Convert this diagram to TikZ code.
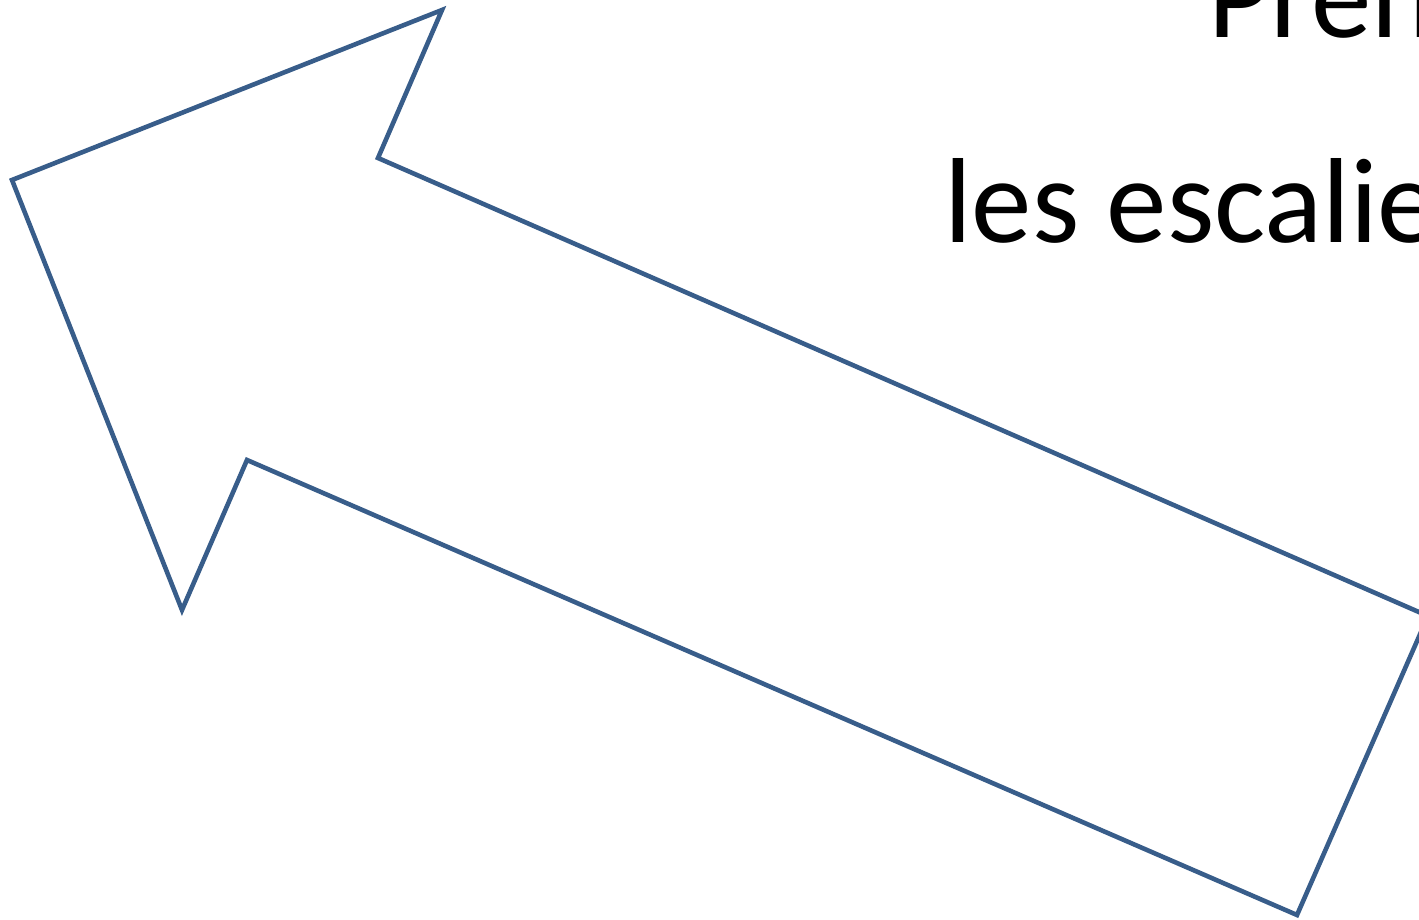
\documentclass[tikz,border=0pt]{standalone}
\usepackage{fontspec}
\setmainfont{Carlito}
\definecolor{arrowblue}{HTML}{385D8A}
\begin{document}
\begin{tikzpicture}[x=1pt,y=-1pt,
  outline/.style={draw=arrowblue,line width=4.6pt,line join=miter},
  bigtext/.style={inner sep=0pt,anchor=base west,font=\fontsize{121}{146}\selectfont}]
\useasboundingbox (0,0) rectangle (1419,920);
\clip (0,0) rectangle (1419,920);
\coordinate (tip) at (12,180);
\coordinate (headtop) at (442,10);
\coordinate (notchtop) at (378,158);
\coordinate (tailtop) at (1428,616);
\coordinate (tailbot) at (1297,915);
\coordinate (notchbot) at (247,460);
\coordinate (headbot) at (182,610);
\draw[outline] (tip) -- (headtop) -- (notchtop) -- (tailtop) -- (tailbot) -- (notchbot) -- (headbot) -- cycle;
\node[bigtext] (line1) at (1208,38) {Prendre};
\node[bigtext] (line2) at (944,243) {les escaliers};
\end{tikzpicture}
\end{document}
